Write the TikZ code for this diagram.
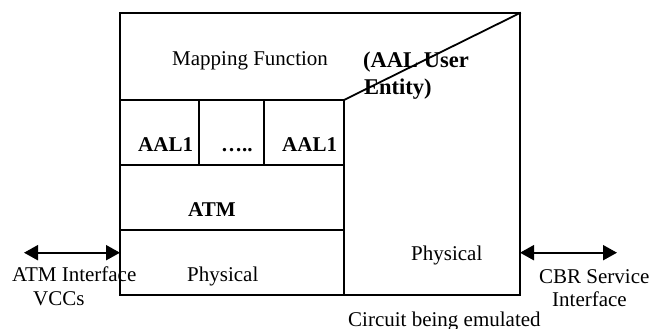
\documentclass[tikz,border=0pt]{standalone}
\usepackage{fontspec}
\setmainfont{Liberation Serif}
\usetikzlibrary{arrows.meta}
\tikzset{
  frame/.style={line width=1.8pt, line cap=rect, line join=miter},
  lbl/.style={anchor=base west, inner sep=0pt, font=\fontsize{21}{25}\selectfont},
  blbl/.style={anchor=base west, inner sep=0pt, font=\fontsize{21}{25}\selectfont\bfseries},
  ublbl/.style={anchor=base west, inner sep=0pt, font=\fontsize{22.5}{27}\selectfont\bfseries},
  iface/.style={line width=2pt, {Triangle[length=14pt,width=15pt]}-{Triangle[length=14pt,width=15pt]}}
}
\begin{document}
\begin{tikzpicture}[x=1pt,y=-1pt]
  \useasboundingbox (0,0) rectangle (665,329);

  % protocol stack outline
  \coordinate (tl) at (120,13);
  \coordinate (tr) at (520,13);
  \coordinate (bl) at (120,295);
  \coordinate (br) at (520,295);
  \coordinate (split) at (344,100);
  \coordinate (splitb) at (344,295);
  \draw[frame] (tl) rectangle (br);
  \draw[frame] (120,100) -- (split) -- (tr);
  \draw[frame] (split) -- (splitb);
  \draw[frame] (120,165) -- (344,165);
  \draw[frame] (120,230) -- (344,230);
  \draw[frame] (199,100) -- (199,165);
  \draw[frame] (264,100) -- (264,165);

  % layer labels
  \node[lbl]   (map)   at (172,66)    {Mapping Function};
  \node[ublbl] (user1) at (363,67.5)  {(AAL User};
  \node[ublbl] (user2) at (364,95)    {Entity)};
  \node[blbl]  (aal1)  at (138,151.5) {AAL1};
  \node[blbl]  (dots)  at (221,151.5) {\dots..};
  \node[blbl]  (aal2)  at (282,151.5) {AAL1};
  \node[blbl]  (atm)   at (188,216)   {ATM};
  \node[lbl]   (phyl)  at (187,281.5) {Physical};
  \node[lbl]   (phyr)  at (411,260)   {Physical};

  % interfaces
  \coordinate (la) at (24,252.7);
  \coordinate (lb) at (120,252.7);
  \coordinate (ra) at (520,252.7);
  \coordinate (rb) at (617,252.7);
  \draw[iface] (la) -- (lb);
  \draw[iface] (ra) -- (rb);

  \node[lbl] (atmif) at (12,281.5)  {ATM Interface};
  \node[lbl] (vccs)  at (33,305)    {VCCs};
  \node[lbl] (cbr)   at (539,283.3) {CBR Service};
  \node[lbl] (cbrif) at (552,306)   {Interface};
  \node[lbl] (circ)  at (348,326.5) {Circuit being emulated};
\end{tikzpicture}
\end{document}
